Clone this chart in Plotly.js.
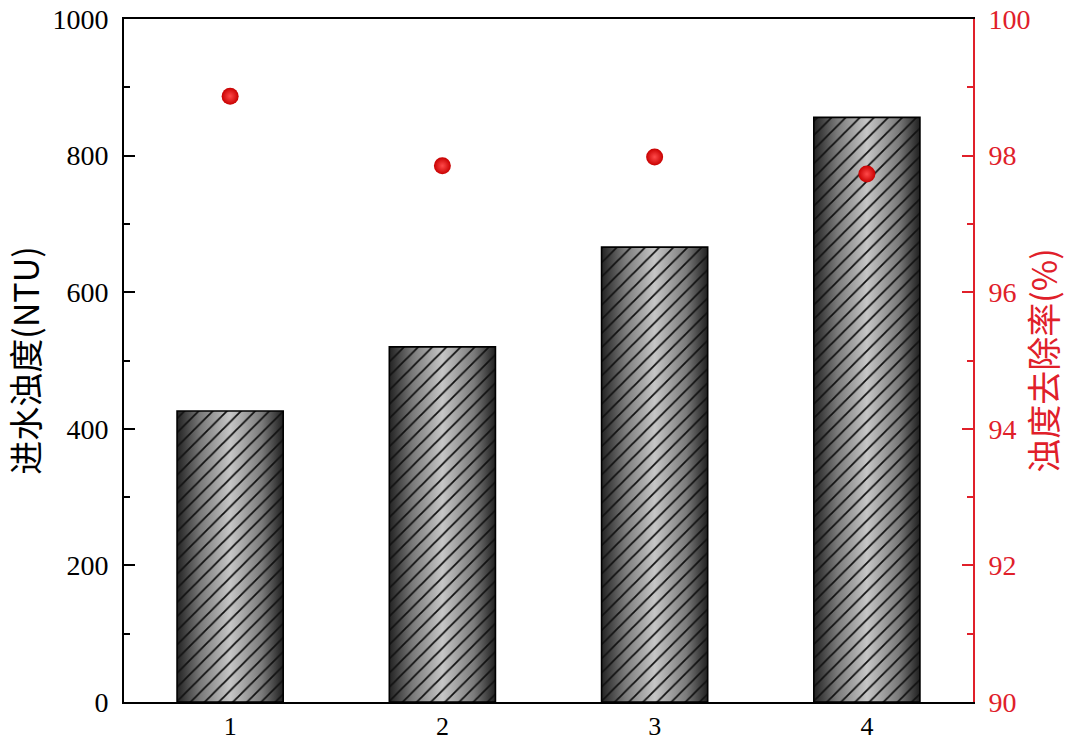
<!DOCTYPE html>
<html>
<head>
<meta charset="utf-8">
<script src="https://cdn.plot.ly/plotly-3.0.1.min.js"></script>
<style>
html,body{margin:0;padding:0;background:#fff;}
#chart{width:1080px;height:744px;}
</style>
</head>
<body>
<div id="chart"></div>
<script>
const categories = [1, 2, 3, 4];
const influentTurbidity = [426, 520, 666, 856];
const removalRate = [98.87, 97.85, 97.98, 97.73];
const leftTicks = [0, 200, 400, 600, 800, 1000];
const rightTicks = [90, 92, 94, 96, 98, 100];
const leftTitle = '进水浊度(NTU)';
const rightTitle = '浊度去除率(%)';

const serif = '"Liberation Serif", "Times New Roman", serif';
const cjk = '"Noto Sans CJK SC", "Liberation Serif", serif';
const red = '#e0202a';

const traces = [
  {
    type: 'bar',
    x: categories,
    y: influentTurbidity,
    width: 0.5,
    marker: {
      color: 'rgba(0,0,0,0)',
      line: {color: '#000', width: 1.6},
      pattern: {shape: '/', fgcolor: '#111111', bgcolor: 'rgba(0,0,0,0)', fgopacity: 1, size: 10, solidity: 0.18, fillmode: 'replace'}
    },
    hoverinfo: 'skip',
    showlegend: false
  },
  {
    type: 'scatter',
    mode: 'markers',
    x: categories,
    y: removalRate,
    yaxis: 'y2',
    marker: {
      size: 17,
      color: '#c80000',
      gradient: {type: 'radial', color: '#ff4a4a'},
      line: {width: 0}
    },
    showlegend: false
  }
];

const layout = {
  width: 1080,
  height: 744,
  margin: {l: 124, r: 107, t: 19, b: 42},
  paper_bgcolor: '#fff',
  plot_bgcolor: '#fff',
  font: {family: serif, color: '#000', size: 28},
  xaxis: {
    range: [0.5, 4.5],
    tickvals: categories,
    ticktext: categories.map(String),
    ticks: '',
    showline: true,
    mirror: true,
    linecolor: '#000',
    linewidth: 2,
    showgrid: false,
    zeroline: false,
    ticklabelstandoff: 0,
    tickfont: {family: serif, size: 26, color: '#000'}
  },
  yaxis: {
    range: [0, 1000],
    tickvals: leftTicks,
    ticktext: leftTicks.map(String),
    ticks: 'inside',
    ticklen: 11,
    tickwidth: 2,
    tickcolor: '#000',
    minor: {dtick: 100, ticks: 'inside', ticklen: 6, tickwidth: 2, tickcolor: '#000', showgrid: false},
    showline: true,
    linecolor: '#000',
    linewidth: 2,
    showgrid: false,
    zeroline: false,
    ticklabelstandoff: 8,
    tickfont: {family: serif, size: 28, color: '#000'},
    title: {text: leftTitle, font: {family: cjk, size: 34, color: '#000'}, standoff: 4}
  },
  yaxis2: {
    overlaying: 'y',
    side: 'right',
    range: [90, 100],
    tickvals: rightTicks,
    ticktext: rightTicks.map(String),
    ticks: 'inside',
    ticklen: 11,
    tickwidth: 2,
    tickcolor: red,
    minor: {dtick: 1, ticks: 'inside', ticklen: 6, tickwidth: 2, tickcolor: red, showgrid: false},
    showline: true,
    linecolor: red,
    linewidth: 2,
    showgrid: false,
    zeroline: false,
    ticklabelstandoff: 8,
    tickfont: {family: serif, size: 28, color: red},
    title: {text: rightTitle, font: {family: cjk, size: 34, color: red}, standoff: 4}
  }
};

Plotly.newPlot('chart', traces, layout, {displayModeBar: false, staticPlot: true}).then(function (gd) {
  const svgNS = 'http://www.w3.org/2000/svg';
  const svg = gd.querySelector('svg.main-svg');
  let defs = svg.querySelector('defs');
  if (!defs) { defs = document.createElementNS(svgNS, 'defs'); svg.insertBefore(defs, svg.firstChild); }
  const grad = document.createElementNS(svgNS, 'linearGradient');
  grad.setAttribute('id', 'barShade');
  grad.setAttribute('x1', '0'); grad.setAttribute('y1', '0');
  grad.setAttribute('x2', '1'); grad.setAttribute('y2', '0');
  [['0', '#222222'], ['0.22', '#7a7a7a'], ['0.5', '#c6c6c6'], ['0.8', '#7a7a7a'], ['1', '#202020']].forEach(function (s) {
    const st = document.createElementNS(svgNS, 'stop');
    st.setAttribute('offset', s[0]);
    st.setAttribute('stop-color', s[1]);
    grad.appendChild(st);
  });
  defs.appendChild(grad);
  gd.querySelectorAll('.trace.bars .point path').forEach(function (p) {
    const c = p.cloneNode(false);
    c.setAttribute('style', 'fill: url(#barShade); stroke: none;');
    p.parentNode.insertBefore(c, p);
  });
});
</script>
</body>
</html>
